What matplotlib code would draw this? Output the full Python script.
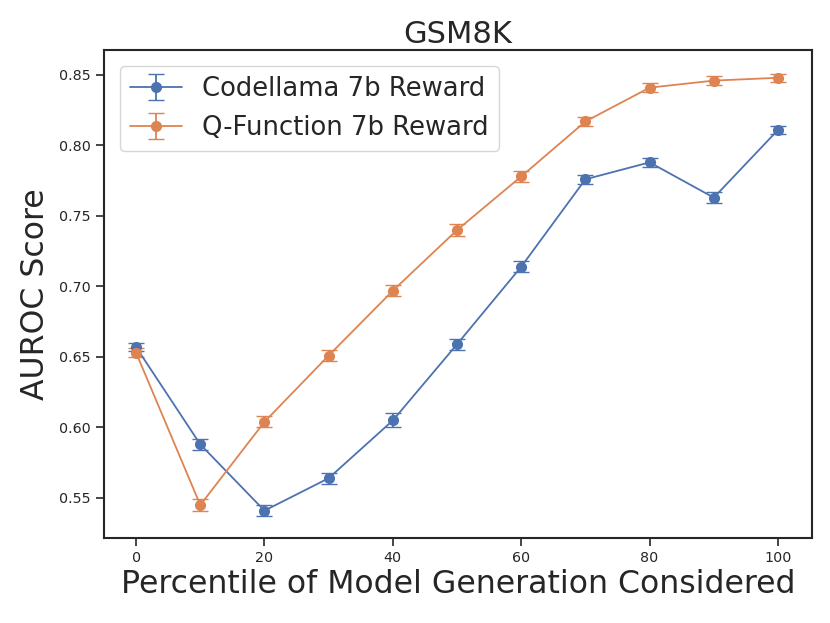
import matplotlib
matplotlib.use("Agg")
import matplotlib.pyplot as plt
import seaborn as sns

sns.set_theme(style="ticks")

percentiles = [0, 10, 20, 30, 40, 50, 60, 70, 80, 90, 100]
codellama = [0.657, 0.588, 0.541, 0.564, 0.605, 0.659, 0.714, 0.776, 0.788, 0.763, 0.811]
codellama_err = [0.003, 0.004, 0.004, 0.004, 0.005, 0.004, 0.004, 0.003, 0.003, 0.004, 0.003]
qfunc = [0.653, 0.545, 0.604, 0.651, 0.697, 0.740, 0.778, 0.817, 0.841, 0.846, 0.848]
qfunc_err = [0.003, 0.004, 0.004, 0.004, 0.004, 0.004, 0.004, 0.003, 0.003, 0.003, 0.003]

pal = sns.color_palette("deep")
fig = plt.figure(figsize=(8.3, 6.23), dpi=100)
ax = fig.add_axes([104/830, 1-538/623, (812-104)/830, (538-50)/623])

ax.errorbar(percentiles, codellama, yerr=codellama_err, marker="o", color=pal[0],
            capsize=6, markersize=7, linewidth=1.3, label="Codellama 7b Reward")
ax.errorbar(percentiles, qfunc, yerr=qfunc_err, marker="o", color=pal[1],
            capsize=6, markersize=7, linewidth=1.3, label="Q-Function 7b Reward")

ax.set_ylim(0.5216, 0.8677)
ax.set_xlim(-5, 105.3)
ax.set_xticks([0, 20, 40, 60, 80, 100])
ax.set_yticks([0.55, 0.60, 0.65, 0.70, 0.75, 0.80, 0.85])
ax.tick_params(labelsize=10.3, length=6, width=1.2)
for s in ax.spines.values():
    s.set_linewidth(1.5)
    s.set_color("#262626")

ax.set_title("GSM8K", fontsize=22, pad=5)
ax.set_xlabel("Percentile of Model Generation Considered", fontsize=22.7, labelpad=3)
ax.set_ylabel("AUROC Score", fontsize=22.7, labelpad=6)
ax.legend(fontsize=18.6, loc="upper left", borderaxespad=0.6)

fig.savefig("out.png", dpi=100)
